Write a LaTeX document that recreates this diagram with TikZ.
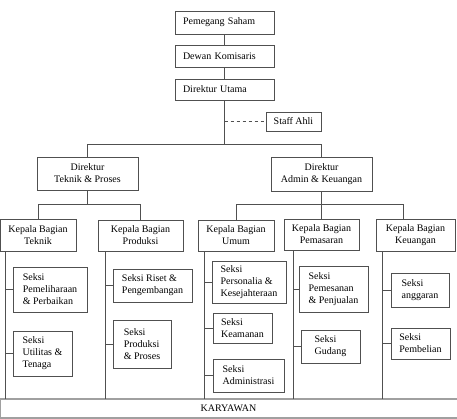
\documentclass[tikz,border=0pt]{standalone}
\usepackage{fontspec}
\setmainfont{Liberation Serif}
\usepackage{tikz}
\usetikzlibrary{calc}
\definecolor{CLine}{HTML}{505050}
\definecolor{CBar}{HTML}{A0A0A0}

\begin{document}
\begin{tikzpicture}[x=1pt, y=-1pt,
    line/.style={draw=CLine, line width=0.8pt},
    topbox/.style={line, inner xsep=8pt, text width=83pt, align=left},
    headbox/.style={line, inner sep=3pt, align=center},
    seksi/.style={line, inner sep=3pt, align=left}]

    \useasboundingbox (0,0) rectangle (457,419);

    % --- 1. TOP LEVEL ---
    \node[topbox, minimum height=23pt] (ps) at (224.5,22.5) {Pemegang Saham};
    \node[topbox, minimum height=22pt] (dk) at (224.5,56) {Dewan Komisaris};
    \node[topbox, minimum height=21pt] (du) at (224.5,89.5) {Direktur Utama};
    \node[headbox, minimum width=55pt, minimum height=19pt] (sa) at (293.5,121.5) {Staff Ahli};

    \draw[line] (ps) -- (dk);
    \draw[line] (dk) -- (du);
    \draw[line] (du.south) -- ++(0,44) coordinate (jU);
    \draw[line, dashed] (sa.west -| du.south) -- (sa.west);

    % --- 2. DIREKTUR ---
    \node[headbox, minimum width=101pt, minimum height=33pt] (dtp) at (87.5,173.5) {Direktur\\Teknik \& Proses};
    \node[headbox, minimum width=101pt, minimum height=34pt] (dak) at (321.5,174) {Direktur\\Admin \& Keuangan};

    \draw[line] (dtp.north) |- (jU) -| (dak.north);
    \draw[line] (dtp.south) -- ++(0,14) coordinate (jT);
    \draw[line] (dak.south) -- ++(0,13) coordinate (jA);

    % --- 3. KEPALA BAGIAN ---
    \node[headbox, minimum width=76pt, minimum height=32pt] (kbt) at (38,235) {Kepala Bagian\\Teknik};
    \node[headbox, minimum width=85pt, minimum height=31pt] (kbp) at (140.5,235.5) {Kepala Bagian\\Produksi};
    \node[headbox, minimum width=76pt, minimum height=31pt] (kbu) at (236,235.5) {Kepala Bagian\\Umum};
    \node[headbox, minimum width=75pt, minimum height=31pt] (kbm) at (321.5,234.5) {Kepala Bagian\\Pemasaran};
    \node[headbox, minimum width=79pt, minimum height=32pt] (kbk) at (415.5,235) {Kepala Bagian\\Keuangan};

    \draw[line] (kbt.north) |- (jT) -| (kbp.north);
    \draw[line] (kbu.north) |- (jA) -| ([xshift=-12.5pt]kbk.north);
    \draw[line] (jA) -- (kbm.north);

    % --- 4. KARYAWAN ---
    \node[minimum width=457pt, minimum height=18pt, inner sep=0pt] (kar) at (228.5,408.5) {KARYAWAN};
    \draw[CBar, line width=2pt] (kar.north west) -- (kar.north east);
    \draw[CBar, line width=2pt] (kar.south west) -- (kar.south east);
    \draw[CBar, line width=0.8pt] ([xshift=0.4pt]kar.north west) -- ([xshift=0.4pt]kar.south west);

    % column lines
    \coordinate (colT) at (5,0);
    \coordinate (colP) at (105,0);
    \coordinate (colU) at (204,0);
    \coordinate (colM) at (293,0);
    \coordinate (colK) at (382,0);
    \draw[line] (kbt.south -| colT) -- (kar.north -| colT);
    \draw[line] (kbp.south -| colP) -- (kar.north -| colP);
    \draw[line] (kbu.south -| colU) -- (kar.north -| colU);
    \draw[line] (kbm.south -| colM) -- (kar.north -| colM);
    \draw[line] (kbk.south -| colK) -- (kar.north -| colK);

    % --- 5. SEKSI ---
    % Teknik
    \node[seksi, minimum width=74pt, minimum height=45pt] (spp) at (50,289.5) {Seksi\\Pemeliharaan\\\& Perbaikan};
    \node[seksi, minimum width=59pt, minimum height=45pt] (sut) at (42.5,353.5) {Seksi\\Utilitas \&\\Tenaga};
    % Produksi
    \node[seksi, minimum width=79pt, minimum height=33pt] (srp) at (152.5,285.5) {Seksi Riset \&\\Pengembangan};
    \node[seksi, minimum width=58pt, minimum height=48pt] (spr) at (142,344) {Seksi\\Produksi\\\& Proses};
    % Umum
    \node[seksi, minimum width=74pt, minimum height=42pt] (sps) at (249,282) {Seksi\\Personalia \&\\Kesejahteraan};
    \node[seksi, minimum width=59pt, minimum height=30pt] (skm) at (242.5,328) {Seksi\\Keamanan};
    \node[seksi, minimum width=71pt, minimum height=33pt] (sad) at (248.5,375.5) {Seksi\\Administrasi};
    % Pemasaran
    \node[seksi, minimum width=69pt, minimum height=46pt] (spj) at (333.5,289) {Seksi\\Pemesanan\\\& Penjualan};
    \node[seksi, minimum width=59pt, minimum height=33pt] (sgd) at (330.5,346.5) {Seksi\\Gudang};
    % Keuangan
    \node[seksi, minimum width=58pt, minimum height=34pt] (sag) at (420,290) {Seksi\\anggaran};
    \node[seksi, minimum width=59pt, minimum height=31pt] (spb) at (420.5,343.5) {Seksi\\Pembelian};

    \foreach \s/\c in {spp/colT, sut/colT, srp/colP, spr/colP, sps/colU, skm/colU, sad/colU, spj/colM, sgd/colM, sag/colK, spb/colK}
        \draw[line] (\s.west -| \c) -- (\s.west);

\end{tikzpicture}
\end{document}
